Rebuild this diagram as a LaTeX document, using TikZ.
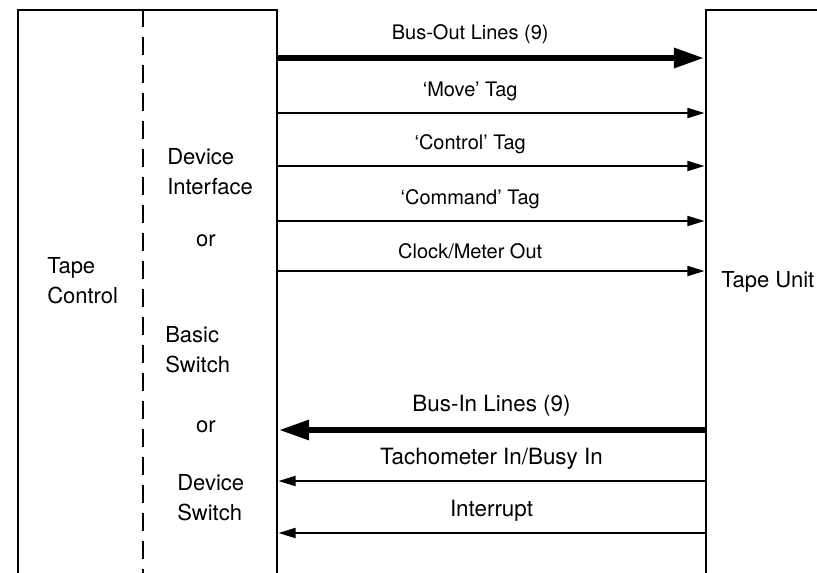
\documentclass[tikz,border=0pt]{standalone}
\usepackage{fontspec}
\setmainfont{TeX Gyre Heros}
\usetikzlibrary{arrows.meta,positioning,fit}
\tikzset{
  frame/.style={draw,line width=2.1pt,inner sep=0pt},
  divider/.style={line width=1.8pt,dash pattern=on 13.5pt off 7.5pt},
  wire/.style={line width=1.6pt,-{Triangle[length=13pt,width=7.5pt]}},
  bus/.style={line width=5pt,-{Triangle[length=23pt,width=14pt]}},
  tag/.style={font=\fontsize{15}{18}\selectfont,inner sep=0pt,above=8pt},
  widetag/.style={tag,font=\fontsize{16.8}{20}\selectfont},
  side/.style={font=\fontsize{16.5}{22.5}\selectfont,align=left,inner sep=0pt,anchor=west}
}

\begin{document}
\begin{tikzpicture}[x=0.75pt,y=-0.75pt]
  \useasboundingbox (0,0) rectangle (817,572);
  \clip (0,0) rectangle (817,572);

  % the two units, open past the edge of the page
  \node[frame,fit={(18,10) (277,620)}] (ctl) {};
  \node[frame,fit={(706,10) (880,620)}] (unit) {};
  \draw[divider] (ctl.north -| 143,0) -- (143,620);

  \node[side] (tape) at (47,281) {Tape\\Control};
  \node[side] (devif) at (167,172) {Device\\Interface};
  \node[side,anchor=center] (or1) at (206,241) {or};
  \node[side] (basic) at (165,350) {Basic\\Switch};
  \node[side,anchor=center] (or2) at (206,427) {or};
  \node[side] (devsw) at (177,498) {Device\\Switch};
  \node[side] (tu) at (721,282) {Tape Unit};

  % outbound lines
  \draw[bus] (ctl.east |- 0,58) -- node[tag,pos=0.45]{Bus-Out Lines (9)} (unit.west |- 0,58);
  \draw[wire] (ctl.east |- 0,113) -- node[tag,pos=0.45]{`Move' Tag} (unit.west |- 0,113);
  \draw[wire] (ctl.east |- 0,166) -- node[tag,pos=0.45]{`Control' Tag} (unit.west |- 0,166);
  \draw[wire] (ctl.east |- 0,221) -- node[tag,pos=0.45]{`Command' Tag} (unit.west |- 0,221);
  \draw[wire] (ctl.east |- 0,271) -- node[tag,pos=0.45]{Clock/Meter Out} (unit.west |- 0,271);

  % inbound lines
  \draw[bus] (unit.west |- 0,430) -- node[widetag]{Bus-In Lines (9)} (ctl.east |- 0,430);
  \draw[wire] (unit.west |- 0,481) -- node[widetag]{Tachometer In/Busy In} (ctl.east |- 0,481);
  \draw[wire] (unit.west |- 0,533) -- node[widetag]{Interrupt} (ctl.east |- 0,533);
\end{tikzpicture}
\end{document}
